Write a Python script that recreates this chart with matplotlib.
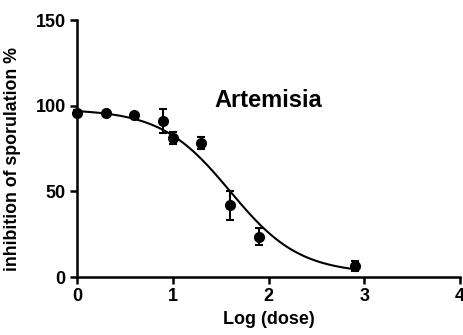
import numpy as np
import matplotlib
matplotlib.use("Agg")
import matplotlib.pyplot as plt

plt.rcParams['font.family'] = ['Liberation Sans', 'DejaVu Sans']
plt.rcParams['font.weight'] = 'bold'

# Data
log_dose = [0.0, 0.3, 0.6, 0.9, 1.0, 1.3, 1.6, 1.9, 2.9]
inhibition = [96, 95.5, 94.5, 91, 81, 78, 42, 23.5, 6.5]
err = [1.5, 1.5, 1.5, 7, 3.5, 3.5, 8.5, 5, 3]

# Fitted sigmoid (4-parameter logistic) parameters
fit_top = 98
fit_bottom = 2
fit_logic50 = 1.6
fit_hill = 1.2
fit_range = (0.0, 2.9)

title = "Artemisia"
xlabel = "Log (dose)"
ylabel = "inhibition of sporulation %"
xticks = [0, 1, 2, 3, 4]
yticks = [0, 50, 100, 150]

fig = plt.figure(figsize=(4.63, 3.35), dpi=100)
ax = fig.add_axes([0.166, 0.173, 0.828, 0.767])

xf = np.linspace(fit_range[0], fit_range[1], 300)
yf = fit_bottom + (fit_top - fit_bottom) / (1 + 10 ** ((xf - fit_logic50) * fit_hill))
ax.plot(xf, yf, color='black', lw=1.5, zorder=2)

ax.errorbar(log_dose, inhibition, yerr=err, fmt='o', color='black', ms=7,
            capsize=3, elinewidth=1.5, capthick=1.5, zorder=3, clip_on=False)

ax.text(2.0, 103, title, fontsize=17, fontweight='bold', ha='center', va='center')

ax.set_xlim(0, 4)
ax.set_ylim(0, 150)
ax.set_xticks(xticks)
ax.set_yticks(yticks)
ax.set_xlabel(xlabel, fontsize=13, fontweight='bold', labelpad=4)
ax.set_ylabel(ylabel, fontsize=12.8, fontweight='bold', labelpad=4)
ax.yaxis.set_label_coords(-0.145, 0.46)

for s in ['top', 'right']:
    ax.spines[s].set_visible(False)
for s in ['left', 'bottom']:
    ax.spines[s].set_linewidth(1.8)
ax.tick_params(axis='both', width=1.8, length=5, labelsize=13, direction='out', pad=3)
for lab in ax.get_xticklabels() + ax.get_yticklabels():
    lab.set_fontweight('bold')

fig.savefig("out.png", dpi=100)
